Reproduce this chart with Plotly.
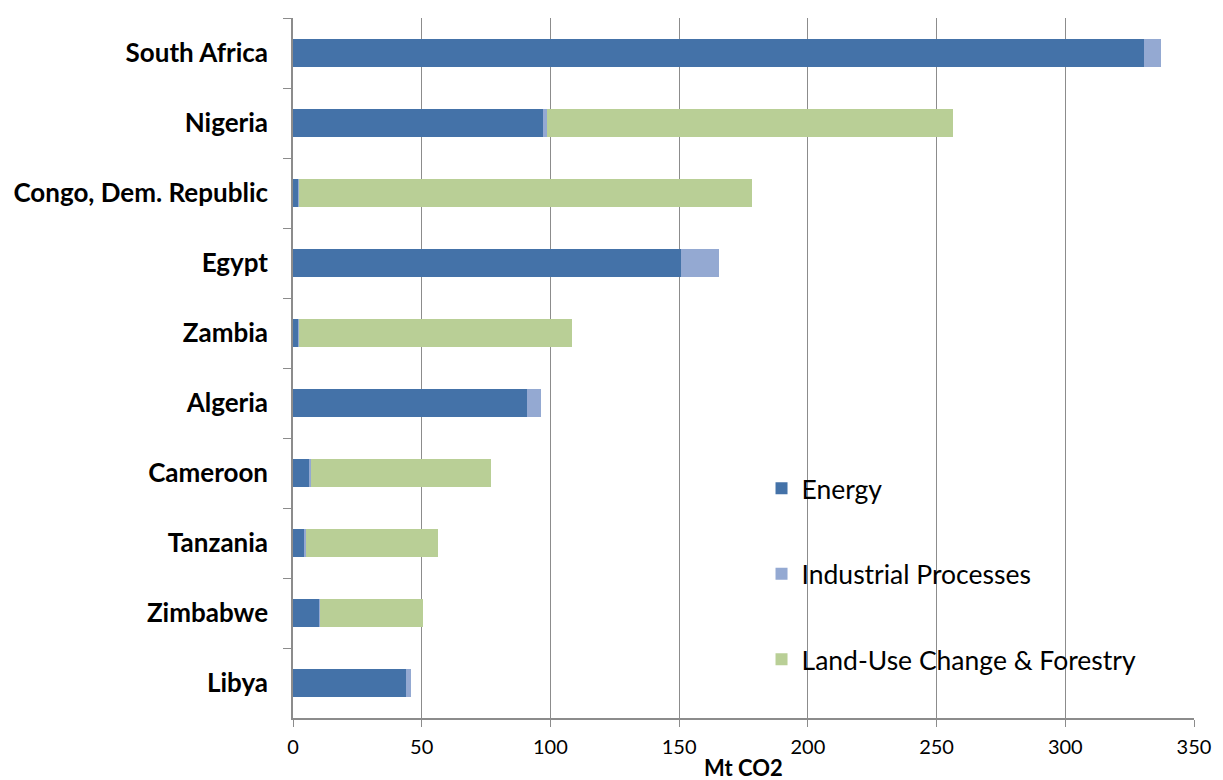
import plotly.graph_objects as go

countries = ["South Africa", "Nigeria", "Congo, Dem. Republic", "Egypt", "Zambia",
             "Algeria", "Cameroon", "Tanzania", "Zimbabwe", "Libya"]
energy = [330.5, 97.3, 2.3, 150.6, 2.3, 90.8, 6.2, 4.2, 10.4, 44.0]
industrial = [6.8, 1.2, 0.1, 14.7, 0.1, 5.5, 0.8, 0.8, 0.2, 2.0]
landuse = [0.0, 158.0, 176.0, 0.0, 106.1, 0.0, 69.9, 51.4, 40.0, 0.0]

series = [
    ("Energy", energy, "#4472a8"),
    ("Industrial Processes", industrial, "#94a9d2"),
    ("Land-Use Change & Forestry", landuse, "#b9cf96"),
]

fig = go.Figure()
for name, vals, col in series:
    fig.add_trace(go.Bar(
        y=countries, x=vals, name=name, orientation="h",
        marker=dict(color=col, line=dict(width=0)),
        legendgroup=name,
    ))

fig.update_layout(
    barmode="stack",
    bargap=0.6,
    width=1223, height=780,
    margin=dict(l=293, r=24, t=18, b=62),
    plot_bgcolor="white",
    paper_bgcolor="white",
    font=dict(family="Lato, Open Sans, sans-serif", color="black"),
    legend=dict(
        x=0.52, y=0.362, xanchor="left", yanchor="top",
        traceorder="grouped", tracegroupgap=48,
        font=dict(size=26.5, family="Lato, Open Sans, sans-serif"),
        bgcolor="rgba(0,0,0,0)", itemwidth=30,
    ),
    xaxis=dict(
        range=[0, 350], dtick=50, tick0=0,
        showgrid=True, gridcolor="#8c8c8c", gridwidth=1.2,
        showline=True, linecolor="#8c8c8c", linewidth=1.5,
        ticks="outside", ticklen=7, tickcolor="#8c8c8c",
        tickfont=dict(size=20),
        ticklabelstandoff=3,
        zeroline=False,
    ),
    yaxis=dict(
        categoryorder="array", categoryarray=countries,
        autorange="reversed",
        showline=True, linecolor="#8c8c8c", linewidth=1.5,
        ticks="outside", ticklen=8, tickcolor="#8c8c8c",
        tickson="boundaries",
        tickfont=dict(size=26, family="Lato, Open Sans, sans-serif"),
        ticklabelstandoff=18,
    ),
    annotations=[dict(
        text="<b>Mt CO2</b>", x=0.5, xref="paper", y=-0.071, yref="paper",
        xanchor="center", yanchor="middle", showarrow=False,
        font=dict(size=22, family="Lato, Open Sans, sans-serif", color="black"),
    )],
)
fig.for_each_yaxis(lambda a: a.update(tickprefix="<b>", ticksuffix="</b>"))

fig.write_html("out.html")
